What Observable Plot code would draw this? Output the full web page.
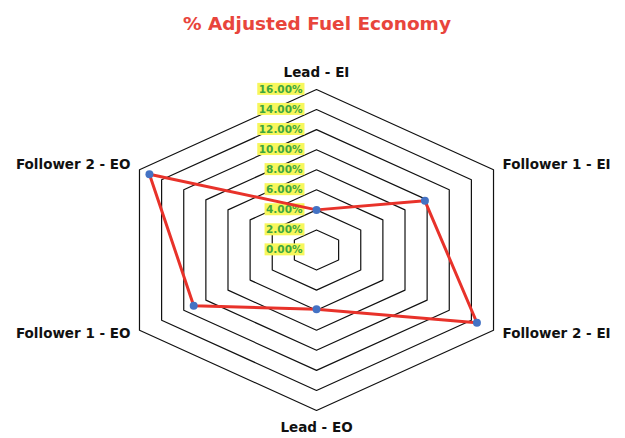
<!DOCTYPE html>
<html>
<head>
<meta charset="utf-8">
<script src="https://cdn.jsdelivr.net/npm/d3@7"></script>
<script src="https://cdn.jsdelivr.net/npm/@observablehq/plot@0.6"></script>
<style>
  html, body { margin: 0; padding: 0; background: #fff; }
  #chart svg { display: block; }
</style>
</head>
<body>
<div id="chart"></div>
<script>
// Radar axes, clockwise from the top
const categories = ["Lead - EI", "Follower 1 - EI", "Follower 2 - EI", "Lead - EO", "Follower 1 - EO", "Follower 2 - EO"];
// % adjusted fuel economy per axis
const values = [0.040, 0.098, 0.145, 0.059, 0.111, 0.151];
// Radial grid levels
const tickValues = [0, 0.02, 0.04, 0.06, 0.08, 0.10, 0.12, 0.14, 0.16];
const title = "% Adjusted Fuel Economy";

const rMax = d3.max(tickValues);
const angle = (i) => (2 * Math.PI * i) / categories.length;
const px = (v, i) => v * Math.sin(angle(i));
const py = (v, i) => v * Math.cos(angle(i));

const series = categories.map((c, i) => ({category: c, value: values[i], i}));
const grid = tickValues.filter((t) => t > 0).flatMap((t) => categories.map((c, i) => ({level: t, i})));
const fmt = d3.format(".2%");

const labelAnchor = (i) => {
  const s = Math.sin(angle(i));
  return s > 0.01 ? "start" : s < -0.01 ? "end" : "middle";
};
const labelDx = (i) => {
  const s = Math.sin(angle(i));
  return s > 0.01 ? 9 : s < -0.01 ? -9 : 0;
};
const labelDy = (i) => {
  const c = Math.cos(angle(i));
  return c > 0.99 ? -17 : c < -0.99 ? 17 : c > 0 ? -5 : 3;
};

const axisLabel = (i) => Plot.text([series[i]], {
  x: (d) => px(rMax, d.i),
  y: (d) => py(rMax, d.i),
  text: "category",
  textAnchor: labelAnchor(i),
  dx: labelDx(i),
  dy: labelDy(i),
  fontFamily: "DejaVu Sans",
  fontWeight: "bold",
  fontSize: 13.5,
  fill: "#111"
});

const chart = Plot.plot({
  width: 625,
  height: 438,
  margin: 0,
  x: {domain: [-rMax, rMax], range: [111.6, 520.4], axis: null},
  y: {domain: [-rMax, rMax], range: [410, 89], axis: null},
  style: {background: "#fff", overflow: "visible"},
  marks: [
    // hexagonal grid
    Plot.line(grid, {
      x: (d) => px(d.level, d.i),
      y: (d) => py(d.level, d.i),
      z: "level",
      curve: "linear-closed",
      stroke: "#111",
      strokeWidth: 1.2
    }),
    // radial tick labels
    Plot.text(tickValues, {
      x: () => 0,
      y: (d) => d,
      text: (d) => fmt(d),
      textAnchor: "end",
      dx: -14,
      fontFamily: "DejaVu Sans",
      fontWeight: "bold",
      fontSize: 10.5,
      fill: "#3fa63f",
      ariaDescription: "ticklabels"
    }),
    // series outline and points
    Plot.line(series, {
      x: (d) => px(d.value, d.i),
      y: (d) => py(d.value, d.i),
      curve: "linear-closed",
      stroke: "#e8322a",
      strokeWidth: 3
    }),
    Plot.dot(series, {
      x: (d) => px(d.value, d.i),
      y: (d) => py(d.value, d.i),
      r: 4,
      fill: "#4472c4",
      stroke: "none"
    }),
    ...categories.map((c, i) => axisLabel(i)),
    Plot.text([title], {
      frameAnchor: "top",
      dx: 4,
      dy: 16,
      fontFamily: "DejaVu Sans",
      fontWeight: "bold",
      fontSize: 18.5,
      fill: "#e8453c"
    })
  ]
});

document.getElementById("chart").append(chart);

// yellow highlight boxes behind the radial tick labels
const tickGroup = chart.querySelector('g[aria-description="ticklabels"]');
if (tickGroup) {
  tickGroup.querySelectorAll("text").forEach((t) => {
    const b = t.getBBox();
    const rect = document.createElementNS("http://www.w3.org/2000/svg", "rect");
    rect.setAttribute("x", b.x - 1.5);
    rect.setAttribute("y", b.y);
    rect.setAttribute("width", b.width + 3);
    rect.setAttribute("height", b.height);
    rect.setAttribute("fill", "#f7f75c");
    const tr = t.getAttribute("transform");
    if (tr) rect.setAttribute("transform", tr);
    tickGroup.insertBefore(rect, t);
  });
}
</script>
</body>
</html>
